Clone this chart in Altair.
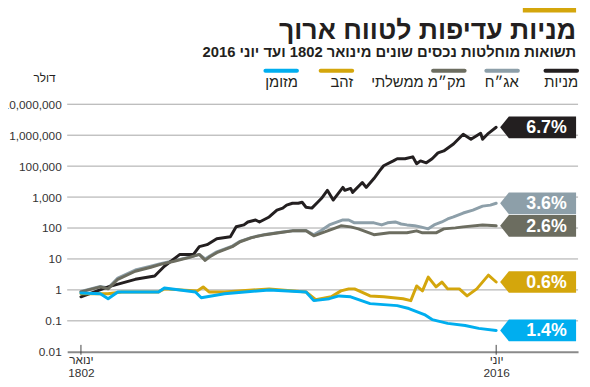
import altair as alt
import pandas as pd

# ---------------- data ----------------
series_names = ["מניות", "אג״ח", "מק״מ ממשלתי", "זהב", "מזומן"]
series_colors = ["#231f20", "#8d9fa9", "#6c6d60", "#d4a60c", "#00aeef"]
return_labels = ["6.7%", "3.6%", "2.6%", "0.6%", "1.4%"]

stocks_years = [1802, 1816, 1830, 1840, 1845, 1853, 1860, 1863, 1867, 1872, 1879, 1882, 1886, 1888,
                1892, 1894, 1899, 1903, 1906, 1908, 1911, 1914, 1916, 1918, 1921, 1924, 1926, 1929,
                1932, 1937, 1938, 1941, 1942, 1947, 1949, 1953, 1956, 1958, 1963, 1965, 1969, 1973,
                1975, 1977, 1980, 1983, 1986, 1989, 1994, 1999, 2003, 2008, 2009, 2012, 2016]
stocks_values = [0.6, 1.25, 2.2, 2.8, 5.8, 14, 14, 25, 29, 45, 52, 110, 126, 157,
                 182, 157, 228, 380, 440, 550, 630, 630, 680, 470, 440, 680, 915, 1650,
                 800, 2050, 1650, 1900, 1420, 2950, 2050, 3970, 7100, 10300, 14800, 17300, 17300, 20000,
                 12000, 14800, 12800, 17300, 26800, 31000, 51700, 107000, 74000, 115000, 74000, 115000, 180000]

bonds_years = [1802, 1812, 1816, 1821, 1830, 1838, 1843, 1850, 1858, 1863, 1866, 1868, 1872, 1880,
               1884, 1890, 1897, 1904, 1911, 1918, 1922, 1926, 1930, 1937, 1940, 1943, 1950, 1953,
               1957, 1960, 1964, 1967, 1970, 1974, 1977, 1981, 1984, 1988, 1991, 1994, 1999, 2004,
               2009, 2013, 2016]
bonds_values = [0.9, 1.3, 1.15, 2.4, 4.4, 5.8, 7.0, 8.8, 11.5, 14, 10, 12, 17, 26,
                37, 50, 62, 72, 82, 83, 60, 85, 126, 182, 182, 147, 147, 147,
                126, 147, 157, 135, 126, 118, 109, 94, 126, 157, 196, 228, 305, 380,
                510, 550, 630]

bills_years = [1802, 1812, 1816, 1821, 1830, 1838, 1843, 1850, 1858, 1863, 1866, 1868, 1872, 1880,
               1884, 1890, 1897, 1904, 1911, 1918, 1922, 1928, 1933, 1936, 1941, 1945, 1953, 1961,
               1970, 1975, 1978, 1985, 1989, 1995, 1999, 2009, 2016]
bills_values = [0.86, 1.25, 1.08, 2.2, 4.0, 5.4, 6.7, 8.4, 11.3, 14, 9, 11.3, 16, 25,
                36, 49, 61, 70, 81, 81, 56, 76, 100, 118, 109, 94, 61, 70,
                70, 81, 70, 70, 94, 101, 109, 126, 118]

gold_years = [1802, 1816, 1823, 1842, 1845, 1862, 1865, 1868, 1876, 1899, 1918, 1923, 1931, 1936,
              1940, 1943, 1951, 1958, 1968, 1972, 1975, 1978, 1981, 1985, 1988, 1991, 1997, 2001,
              2006, 2012, 2016]
gold_values = [0.75, 0.75, 0.86, 0.86, 1.08, 0.93, 1.25, 0.86, 0.86, 1.08, 0.86, 0.48, 0.6, 0.93,
               1.08, 1.08, 0.64, 0.6, 0.52, 0.45, 1.34, 0.93, 2.6, 1.25, 1.8, 1.08, 1.08, 0.64,
               1.08, 3.0, 1.8]

cash_years = [1802, 1812, 1816, 1821, 1842, 1845, 1861, 1864, 1876, 1899, 1918, 1922, 1930, 1935,
              1941, 1951, 1965, 1971, 1979, 1983, 1991, 2000, 2007, 2016]
cash_values = [0.8, 0.75, 0.52, 0.86, 0.86, 1.16, 0.86, 0.56, 0.75, 1.0, 0.86, 0.45, 0.52, 0.64,
               0.6, 0.36, 0.31, 0.25, 0.16, 0.11, 0.083, 0.071, 0.057, 0.049]

y_tick_values = [0.01, 0.1, 1, 10, 100, 1000, 10000, 100000, 1000000]
y_tick_labels = ["0.01", "0.1", "1", "10", "100", "1,000", "100,000", "1,000,000", "10,000,000"]
x_tick_years = [1802, 2016]
x_tick_labels = [["ינואר", "1802"], ["יוני", "2016"]]

title_text = "מניות עדיפות לטווח ארוך"
subtitle_text = "תשואות מוחלטות נכסים שונים מינואר 1802 ועד יוני 2016"
unit_text = "דולר"

all_years = [stocks_years, bonds_years, bills_years, gold_years, cash_years]
all_values = [stocks_values, bonds_values, bills_values, gold_values, cash_values]

X_DOMAIN = [1794.9, 2058.2]

# ---------------- tables ----------------
frames = {}
for name, yrs, vals in zip(series_names, all_years, all_values):
    frames[name] = pd.DataFrame({"year": yrs, "value": vals, "series": name})

ends = pd.DataFrame({
    "series": series_names,
    "value": [v[-1] for v in all_values],
    "label": return_labels,
})

grid_rows = []
for v in y_tick_values[1:]:
    for yr in X_DOMAIN:
        grid_rows.append({"year": yr, "value": v, "level": str(v)})
grid_df = pd.DataFrame(grid_rows)

FONT = "Liberation Sans"

x_label_expr = (f"datum.value == {x_tick_years[0]} ? ['{x_tick_labels[0][0]}', '{x_tick_labels[0][1]}']"
                f" : ['{x_tick_labels[1][0]}', '{x_tick_labels[1][1]}']")
y_label_expr = "[" + ",".join(f"'{l}'" for l in y_tick_labels) + "][round(log(datum.value)/LN10) + 2]"

X = alt.X("year:Q",
          scale=alt.Scale(domain=X_DOMAIN, nice=False, zero=False),
          axis=alt.Axis(values=x_tick_years, labelExpr=x_label_expr, title=None, grid=False,
                        ticks=False, domainColor="#8a8a8a", domainWidth=2, labelFontSize=12,
                        labelColor="#333333", labelPadding=3, labelLineHeight=13,
                        labelFont=FONT, labelBaseline="top"))
Y = alt.Y("value:Q",
          scale=alt.Scale(type="log", domain=[0.01, 1000000], nice=False),
          axis=alt.Axis(values=y_tick_values, labelExpr=y_label_expr, title=None, grid=False,
                        ticks=False, domain=False, labelPadding=6, labelFontSize=12,
                        labelColor="#333333", labelFont=FONT))

layers = []

# gridlines drawn as solid thin lines across the scale domain
layers.append(
    alt.Chart(grid_df)
    .mark_line(color="#a6a6a6", strokeWidth=1)
    .encode(x=X, y=Y, detail="level:N")
)

# draw order: bonds, stocks, bills, gold, cash
order = [1, 0, 2, 3, 4]
for i in order:
    name = series_names[i]
    layers.append(
        alt.Chart(frames[name]).mark_line(strokeWidth=3, strokeJoin="round", strokeCap="round",
                                          color=series_colors[i]).encode(x=X, y=Y)
    )

# axis ticks
layers.append(
    alt.Chart(pd.DataFrame({"year": x_tick_years})).mark_rule(color="#444444", strokeWidth=1)
    .encode(x=X, y=alt.value(244), y2=alt.value(254))
)

# end badges
badge_path = "M-1,0L-0.77,-0.286L1,-0.286L1,0.286L-0.77,0.286Z"
color_scale = alt.Scale(domain=series_names, range=series_colors)
layers.append(
    alt.Chart(ends).mark_point(shape=badge_path, size=5929, filled=True, opacity=1, strokeWidth=0)
    .encode(x=alt.value(477.5), y=Y, color=alt.Color("series:N", scale=color_scale, legend=None))
)
layers.append(
    alt.Chart(ends).mark_text(color="white", fontSize=18, fontWeight="bold", font=FONT,
                              align="center", baseline="middle", dy=1)
    .encode(x=alt.value(486), y=Y, text="label:N")
)

# header: gold bar, title, subtitle
layers.append(alt.Chart(pd.DataFrame({"a": [0]})).mark_rect(color="#d4a60c")
              .encode(x=alt.value(462), x2=alt.value(516), y=alt.value(-100), y2=alt.value(-93)))
layers.append(alt.Chart(pd.DataFrame({"a": [0]})).mark_text(
    text=title_text, fontSize=27, fontWeight="bold", font=FONT, color="#231f20",
    align="right", baseline="alphabetic").encode(x=alt.value(516), y=alt.value(-66)))
layers.append(alt.Chart(pd.DataFrame({"a": [0]})).mark_text(
    text=subtitle_text, fontSize=15, fontWeight="bold", font=FONT, color="#231f20",
    align="right", baseline="alphabetic").encode(x=alt.value(516), y=alt.value(-48)))
layers.append(alt.Chart(pd.DataFrame({"a": [0]})).mark_text(
    text=unit_text, fontSize=12, font=FONT, color="#231f20",
    align="center", baseline="alphabetic").encode(x=alt.value(-23), y=alt.value(-23)))

# manual legend
legend_right = [517, 457, 403, 289, 233]
for name, col, r in zip(series_names, series_colors, legend_right):
    layers.append(alt.Chart(pd.DataFrame({"a": [0]})).mark_rule(color=col, strokeWidth=4, strokeCap="round")
                  .encode(x=alt.value(r - 32), x2=alt.value(r), y=alt.value(-34)))
    layers.append(alt.Chart(pd.DataFrame({"a": [0]})).mark_text(
        text=name, fontSize=15, font=FONT, color="#231f20", align="right", baseline="alphabetic")
        .encode(x=alt.value(r + 1), y=alt.value(-17)))

chart = alt.layer(*layers).properties(
    width=518, height=251,
    autosize=alt.AutoSizeParams(type="none"),
    padding={"left": 60, "top": 95, "right": 4, "bottom": 25},
    background="white",
).configure_view(stroke=None)

chart.save("out.html", embed_options={"renderer": "svg", "actions": False})
